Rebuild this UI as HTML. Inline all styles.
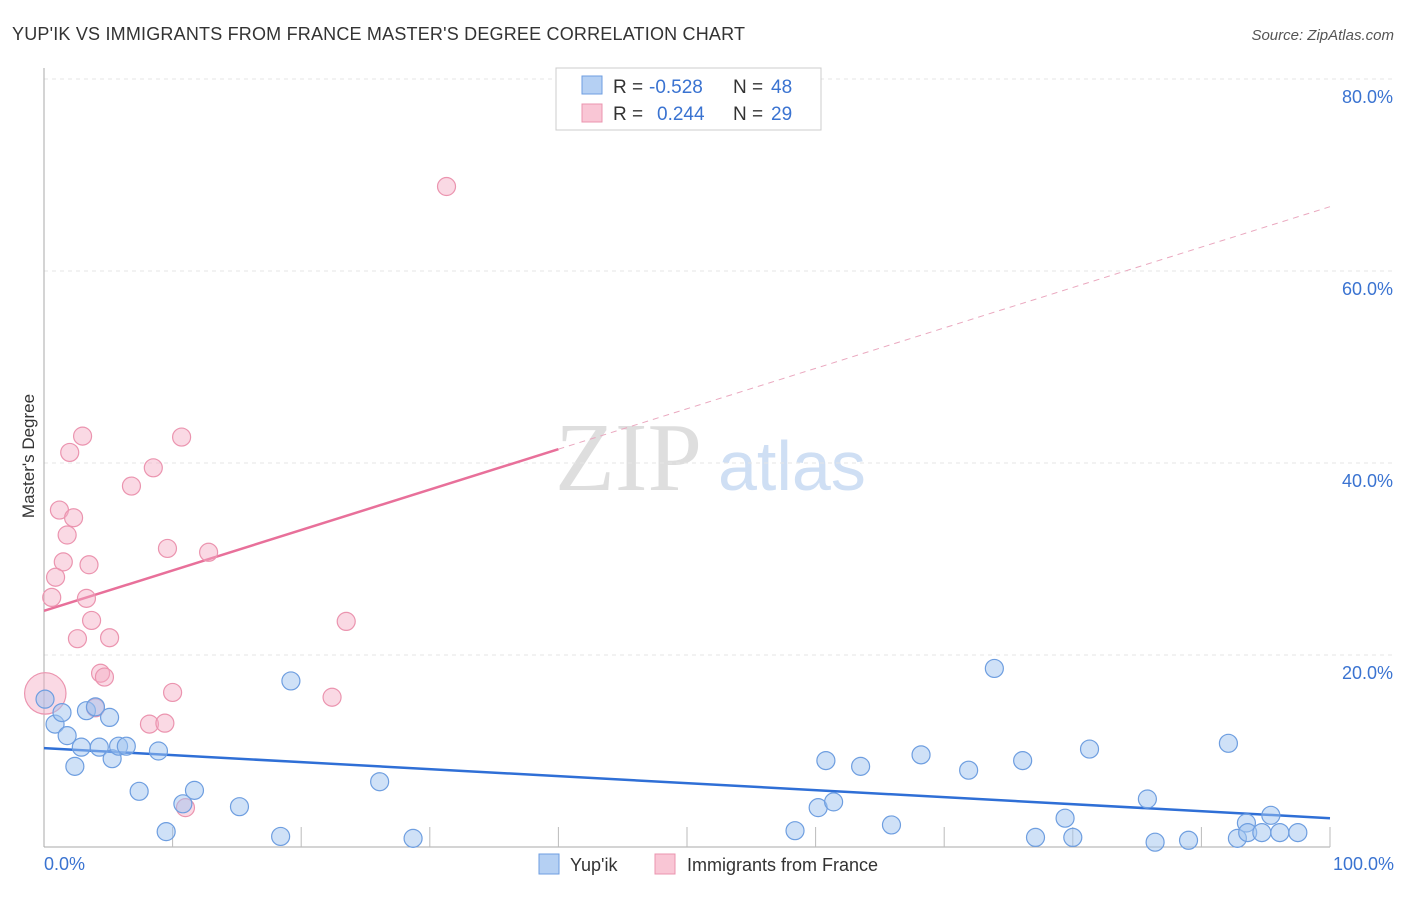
<!DOCTYPE html>
<html><head><meta charset="utf-8"><style>
body{margin:0;background:#fff;font-family:"Liberation Sans",sans-serif;}
svg text{font-family:"Liberation Sans",sans-serif;}
</style></head><body>
<svg id="chart" width="1406" height="892" xmlns="http://www.w3.org/2000/svg">
<text x="12" y="40" font-size="18" fill="#333" textLength="733">YUP'IK VS IMMIGRANTS FROM FRANCE MASTER'S DEGREE CORRELATION CHART</text>
<text x="1394" y="40" font-size="15" fill="#555" font-style="italic" text-anchor="end">Source: ZipAtlas.com</text>
<text x="555" y="490" font-size="98" fill="#dedede" style="font-family:'Liberation Serif',serif">ZIP</text>
<text x="718" y="490" font-size="70" fill="#cfdff4">atlas</text>
<g id="grid"></g><g id="axes"></g><g id="lines"></g><g id="pts"></g>
<text transform="translate(34,456) rotate(-90)" font-size="17" fill="#333" text-anchor="middle">Master's Degree</text>
<text x="44" y="870" font-size="18" fill="#3a73d1">0.0%</text>
<text x="1394" y="870" font-size="18" fill="#3a73d1" text-anchor="end">100.0%</text>
<g>
<rect x="556" y="68" width="265" height="62" fill="#fff" stroke="#ccc"/>
<rect x="582" y="76" width="20" height="18" fill="#b5d0f3" stroke="#6e9ee0"/>
<rect x="582" y="104" width="20" height="18" fill="#f9c6d5" stroke="#eb94af"/>
<text x="613" y="93" font-size="19" fill="#333">R =</text>
<text x="649" y="93" font-size="19" fill="#3a73d1">-0.528</text>
<text x="733" y="93" font-size="19" fill="#333">N =</text>
<text x="771" y="93" font-size="19" fill="#3a73d1">48</text>
<text x="613" y="120" font-size="19" fill="#333">R =</text>
<text x="657" y="120" font-size="19" fill="#3a73d1">0.244</text>
<text x="733" y="120" font-size="19" fill="#333">N =</text>
<text x="771" y="120" font-size="19" fill="#3a73d1">29</text>
</g>
<g><rect x="539" y="854" width="20" height="20" fill="#b5d0f3" stroke="#6e9ee0"/><text x="570" y="871" font-size="18" fill="#333">Yup'ik</text></g>
<g><rect x="655" y="854" width="20" height="20" fill="#f9c6d5" stroke="#eb94af"/><text x="687" y="871" font-size="18" fill="#333">Immigrants from France</text></g>
</svg>
<script>
const yTicks=[20,40,60,80];
const yTickLabels=["20.0%","40.0%","60.0%","80.0%"];
const blueX=[0.08,0.86,1.4,1.8,2.4,2.9,3.3,4.0,4.3,5.1,5.3,5.8,6.4,7.4,8.9,9.5,10.8,11.7,15.2,18.4,19.2,26.1,28.7,58.4,60.2,60.8,61.4,63.5,65.9,68.2,71.9,73.9,76.1,77.1,79.4,80.0,81.3,85.8,86.4,89.0,92.1,92.8,93.5,93.6,94.7,95.4,96.1,97.5];
const blueY=[15.4,12.8,14.0,11.6,8.4,10.4,14.2,14.6,10.4,13.5,9.2,10.5,10.5,5.8,10.0,1.6,4.5,5.9,4.2,1.1,17.3,6.8,0.9,1.7,4.1,9.0,4.7,8.4,2.3,9.6,8.0,18.6,9.0,1.0,3.0,1.0,10.2,5.0,0.5,0.7,10.8,0.9,2.5,1.5,1.5,3.3,1.5,1.5];
const pinkX=[31.3,3.0,10.7,2.0,8.5,6.8,1.2,2.3,1.8,9.6,12.8,1.5,3.5,0.9,0.6,3.3,3.7,23.5,2.6,5.1,4.4,4.7,0.1,10.0,22.4,4.0,8.2,9.4,11.0];
const pinkY=[68.8,42.8,42.7,41.1,39.5,37.6,35.1,34.3,32.5,31.1,30.7,29.7,29.4,28.1,26.0,25.9,23.6,23.5,21.7,21.8,18.1,17.7,16.0,16.1,15.6,14.5,12.8,12.9,4.1];
const pinkSize=[1,1,1,1,1,1,1,1,1,1,1,1,1,1,1,1,1,1,1,1,1,1,2.3,1,1,1,1,1,1];
const blueTrend=[10.3,3.0];
const pinkTrend=[24.6,66.7];
const NS="http://www.w3.org/2000/svg";
const X0=44,X1=1330,Y0=847,PY=9.6;
function sx(v){return X0+(X1-X0)*v/100;}
function sy(v){return Y0-v*PY;}
function mk(p,tag,a){const e=document.createElementNS(NS,tag);for(const k in a)e.setAttribute(k,a[k]);document.getElementById(p).appendChild(e);return e;}
yTicks.forEach((t,i)=>{
 const g=mk('grid','line',{x1:X0,x2:1394,y1:sy(t),y2:sy(t),stroke:'#e6e6e6','stroke-dasharray':'4,4'});
 
 
 const l=mk('grid','text',{x:1393,y:sy(t)+24,'font-size':18,fill:'#3a73d1','text-anchor':'end'});
 l.textContent=yTickLabels[i];
 
 
});
const ax=mk('axes','line',{x1:X0,x2:X0,y1:68,y2:Y0,stroke:'#aaa'});


const bx=mk('axes','line',{x1:X0,x2:X1,y1:Y0,y2:Y0,stroke:'#aaa'});


for(let t=10;t<=100;t+=10){
 const k=mk('axes','line',{x1:sx(t),x2:sx(t),y1:Y0-20,y2:Y0,stroke:'#bbb'});
 
 
}
const bt=mk('lines','line',{x1:sx(0),y1:sy(blueTrend[0]),x2:sx(100),y2:sy(blueTrend[1]),stroke:'#2f6fd6','stroke-width':2.5});


const pm=pinkTrend[0]+(pinkTrend[1]-pinkTrend[0])*0.4;
const pt=mk('lines','line',{x1:sx(0),y1:sy(pinkTrend[0]),x2:sx(40),y2:sy(pm),stroke:'#e8709a','stroke-width':2.5});


const pd=mk('lines','line',{x1:sx(40),y1:sy(pm),x2:sx(100),y2:sy(pinkTrend[1]),stroke:'#eaa8bf','stroke-width':1,'stroke-dasharray':'6,5'});


pinkX.forEach((x,i)=>{
 const c=mk('pts','circle',{cx:sx(x),cy:sy(pinkY[i]),r:9*pinkSize[i],fill:'rgba(244,170,195,0.45)',stroke:'#eb94af','stroke-width':1.2});
 
 
});
blueX.forEach((x,i)=>{
 const c=mk('pts','circle',{cx:sx(x),cy:sy(blueY[i]),r:9,fill:'rgba(160,195,240,0.5)',stroke:'#6e9ee0','stroke-width':1.2});
 
 
});
</script>
</body></html>
